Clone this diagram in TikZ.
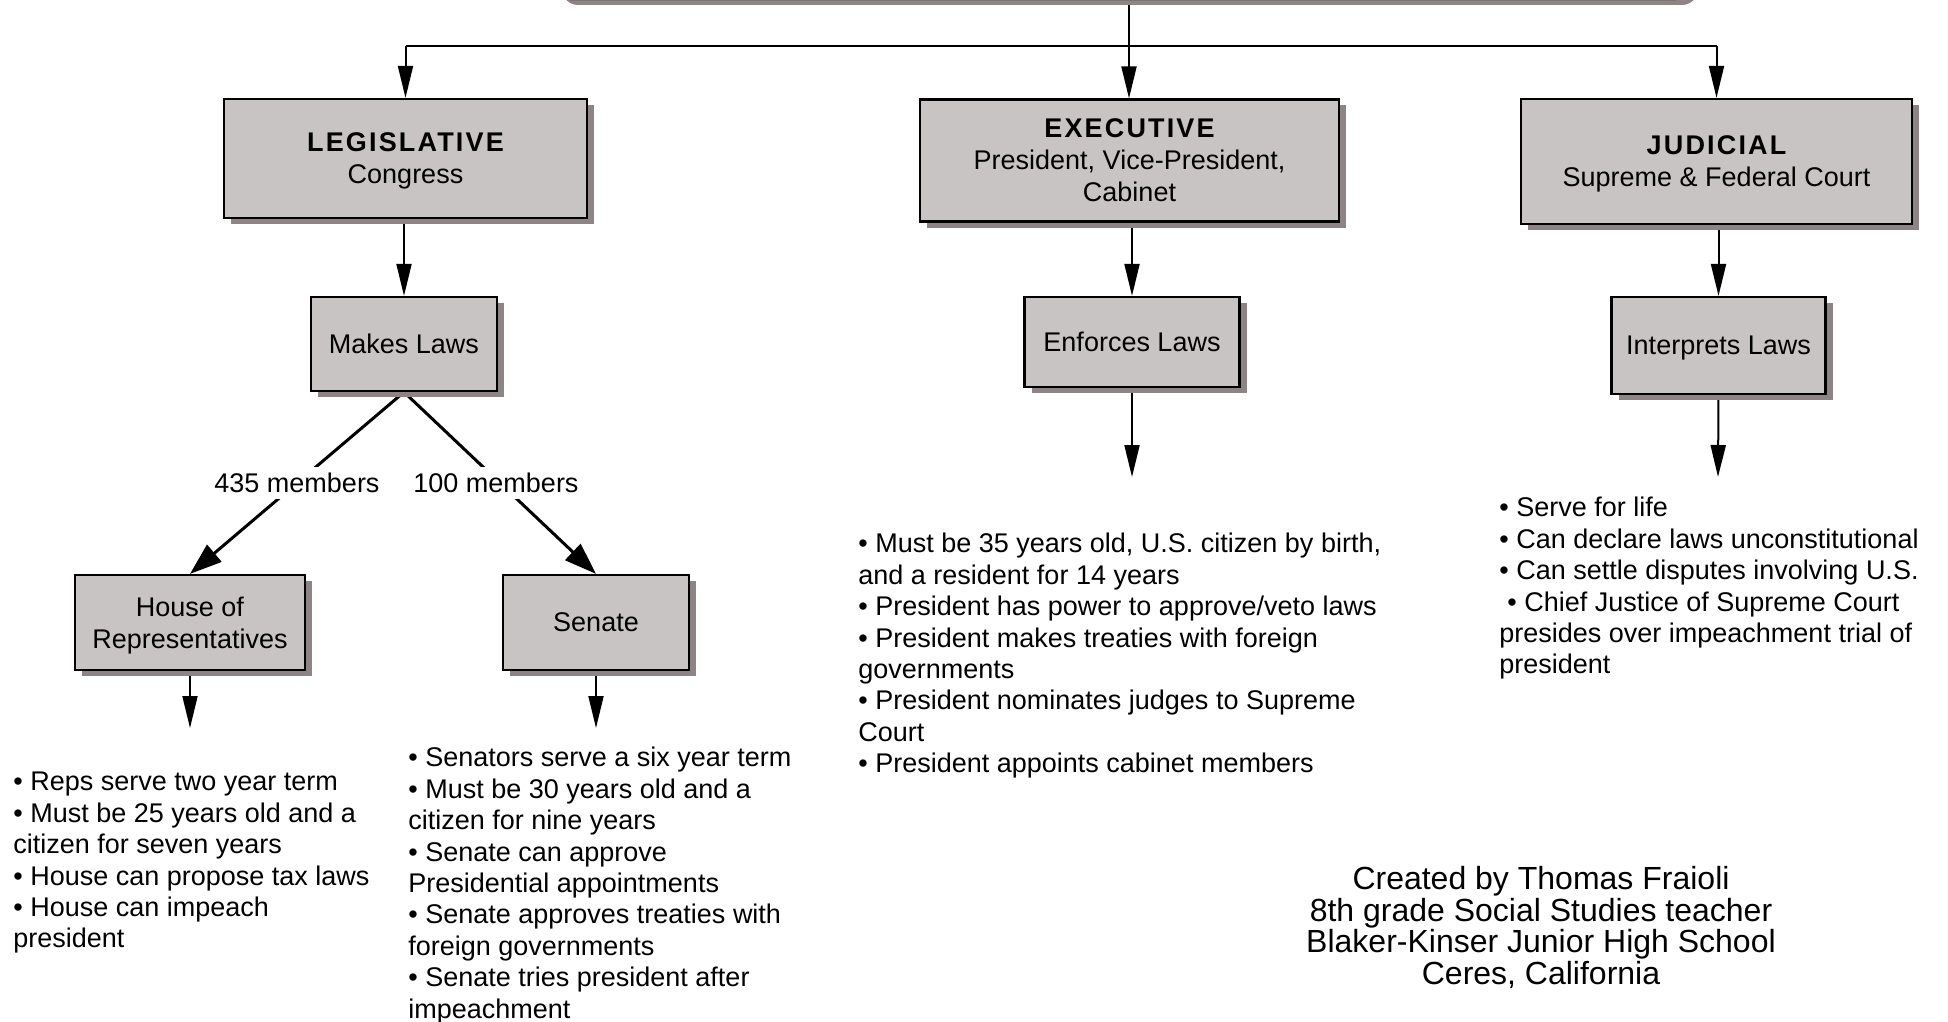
\documentclass[tikz,border=0pt]{standalone}
\usepackage{fontspec}
\setmainfont{Liberation Sans}
\usetikzlibrary{arrows.meta,shadows,backgrounds}
\definecolor{boxgray}{RGB}{200,196,196}
\definecolor{shadegray}{RGB}{141,133,133}
\newcommand{\branchhead}[1]{{\bfseries\addfontfeatures{LetterSpace=8}#1}}

\begin{document}
\frenchspacing
\begin{tikzpicture}[x=0.5pt, y=-0.5pt,
every node/.style = {font=\fontsize{13.5pt}{16pt}\selectfont, align=center},
	branch/.style = {shape=rectangle, draw, line width=1.1pt, fill=boxgray, text depth=0pt,
		drop shadow={shadow xshift=3.5pt, shadow yshift=-3pt, fill=shadegray, opacity=1}},
	notes/.style = {anchor=north west, inner sep=0pt, align=left,
		font=\fontsize{13.5pt}{15.7pt}\selectfont},
	link/.style = {line width=1pt, -{Triangle[length=16pt,width=7.5pt]}},
	split/.style = {line width=1.5pt, -{Triangle[length=16pt,width=11pt]}},
	count/.style = {fill=white, inner sep=3pt, pos=0.5}]
	\useasboundingbox (0,0) rectangle (1948,1022);
	\node[branch, rounded corners=8pt, minimum width=568pt, minimum height=50pt] (govt) at (1123,-51) {};
	% the three branches
	\node[branch, minimum width=181.5pt, minimum height=59.5pt] (leg) at (405.5,158.5)
		{\branchhead{LEGISLATIVE}\\Congress};
	\node[branch, minimum width=209.5pt, minimum height=61pt] (exe) at (1129.5,160.5)
		{\branchhead{EXECUTIVE}\\President, Vice-President,\\Cabinet};
	\node[branch, minimum width=195.5pt, minimum height=62.5pt] (jud) at (1716.5,161.5)
		{\branchhead{JUDICIAL}\\Supreme \& Federal Court};
	\node[branch, minimum width=93pt, minimum height=47pt] (makes) at (404,344) {Makes Laws};
	\node[branch, minimum width=107.5pt, minimum height=45pt] (enforces) at (1132,342) {Enforces Laws};
	\node[branch, minimum width=107pt, minimum height=48.5pt] (interprets) at (1718.5,345.5) {Interprets Laws};
	\node[branch, minimum width=115pt, minimum height=47.5pt] (house) at (190,622.5) {House of\\Representatives};
	\node[branch, minimum width=93pt, minimum height=47.5pt] (senate) at (596,622.5) {Senate};
	\coordinate (bus) at (1129,46);
	\coordinate (houseEnd) at (190,728);
	\coordinate (senateEnd) at (596,728);
	\coordinate (enforcesEnd) at (1132,477);
	\coordinate (interpretsEnd) at (1718,477);
	% lists
	\node[notes] (houseNotes) at (13,772) {• Reps serve two year term\\
		• Must be 25 years old and a\\citizen for seven years\\
		• House can propose tax laws\\
		• House can impeach\\president};
	\node[notes] (senateNotes) at (408,747) {• Senators serve a six year term\\
		• Must be 30 years old and a\\citizen for nine years\\
		• Senate can approve\\Presidential appointments\\
		• Senate approves treaties with\\foreign governments\\
		• Senate tries president after\\impeachment};
	\node[notes] (exeNotes) at (858,533) {• Must be 35 years old, U.S. citizen by birth,\\and a resident for 14 years\\
		• President has power to approve/veto laws\\
		• President makes treaties with foreign\\governments\\
		• President nominates judges to Supreme\\Court\\
		• President appoints cabinet members};
	\node[notes] (judNotes) at (1499,497) {• Serve for life\\
		• Can declare laws unconstitutional\\
		• Can settle disputes involving U.S.\\
		\hspace{4pt}• Chief Justice of Supreme Court\\presides over impeachment trial of\\president};
	\node[anchor=north, inner sep=0pt, font=\fontsize{16pt}{15.8pt}\selectfont] (credits) at (1541,866)
		{Created by Thomas Fraioli\\8th grade Social Studies teacher\\Blaker-Kinser Junior High School\\Ceres, California};
	\begin{scope}[on background layer]
		\draw[line width=1.3pt] (bus |- govt.south) -- (bus);
		\draw[line width=1pt] (leg.north |- bus) -- (jud.north |- bus);
		\draw[link] (bus) -- (bus |- exe.north);
		\foreach \b in {leg,jud}
			\draw[link] (\b.north |- bus) -- (\b.north);
		\draw[link] (makes.north |- leg.south) -- (makes.north);
		\draw[link] (enforces.north |- exe.south) -- (enforces.north);
		\draw[link] (interprets.north |- jud.south) -- (interprets.north);
		\draw[split] (makes.south) -- node[count] {435 members} (house.north);
		\draw[split] (makes.south) -- node[count, xshift=-2pt] {100 members} (senate.north);
		\draw[link] (house.south) -- (houseEnd);
		\draw[link] (senate.south) -- (senateEnd);
		\draw[link] (enforces.south) -- (enforcesEnd);
		\draw[link] (interprets.south) -- (interpretsEnd);
	\end{scope}
\end{tikzpicture}
\end{document}
